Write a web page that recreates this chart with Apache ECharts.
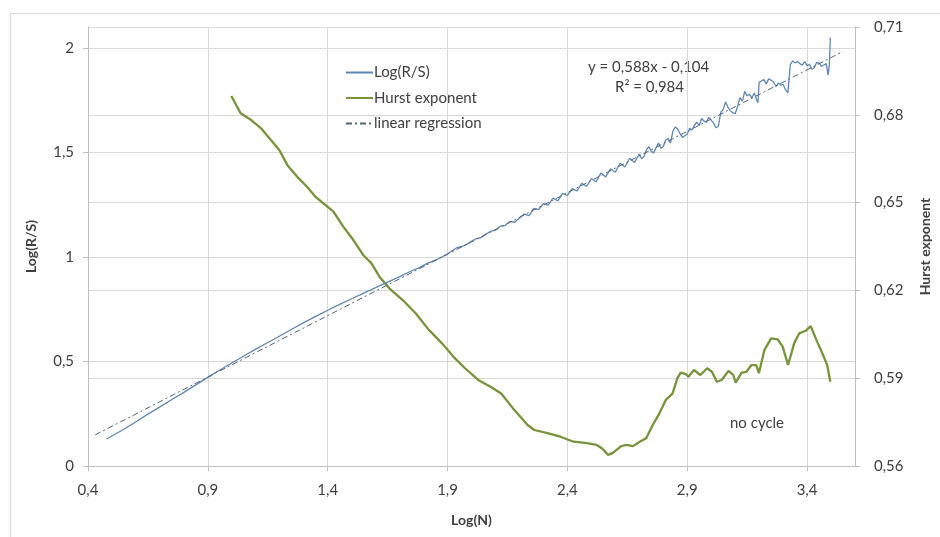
<!DOCTYPE html>
<html>
<head>
<meta charset="utf-8">
<script src="https://cdn.jsdelivr.net/npm/echarts@6/dist/echarts.min.js"></script>
<style>html,body{margin:0;padding:0;background:#fff}#c{width:940px;height:537px}</style>
</head>
<body>
<div id="c"></div>
<script>
// ---- data ----
const xTickLabels = ['0,4','0,9','1,4','1,9','2,4','2,9','3,4'];
const leftTickLabels = ['0','0,5','1','1,5','2'];
const rightTickLabels = ['0,56','0,59','0,62','0,65','0,68','0,71'];

const rsX = [0.477,0.55,0.6,0.65,0.7,0.75,0.8,0.85,0.9,0.95,1.0,1.05,1.1,1.15,1.2,1.25,1.3,1.35,1.4,1.45,1.5,1.55,1.6,1.65,1.7,1.74,1.78,1.82,1.86,1.9,
  1.92,1.94,1.96,1.98,2.0,2.02,2.04,2.06,2.08,2.1,2.12,2.14,2.16,2.18,2.2,2.22,2.24,2.26,2.28,2.3,2.32,2.34,2.36,2.38,2.4,2.42,2.44,2.46,2.48,2.5,
  2.52,2.54,2.56,2.58,2.6,2.62,2.64,2.66,2.68,2.7,2.71,2.72,2.73,2.74,2.75,2.76,2.77,2.78,2.79,2.8,2.81,2.82,2.83,2.84,2.85,2.86,2.87,2.88,2.89,2.9,
  2.91,2.92,2.93,2.94,2.95,2.96,2.97,2.98,2.99,3.0,3.01,3.02,3.03,3.04,3.05,3.06,3.07,3.08,3.09,3.1,3.11,3.12,3.13,3.14,3.15,3.16,3.17,3.18,3.19,3.195,
  3.2,3.21,3.22,3.23,3.24,3.25,3.26,3.27,3.28,3.29,3.3,3.31,3.32,3.325,3.33,3.34,3.35,3.36,3.37,3.38,3.39,3.4,3.41,3.42,3.43,3.44,3.45,3.46,3.47,3.48,3.488,3.493,3.497];
const rsY = [0.129,0.176,0.212,0.248,0.283,0.318,0.352,0.388,0.424,0.459,0.493,0.526,0.559,0.591,0.622,0.654,0.686,0.716,0.745,0.773,0.800,0.827,0.853,0.880,0.906,0.928,0.948,0.972,0.990,1.015,
  1.030,1.045,1.050,1.060,1.075,1.088,1.092,1.110,1.122,1.128,1.147,1.150,1.170,1.166,1.186,1.205,1.198,1.232,1.226,1.255,1.248,1.282,1.268,1.304,1.294,1.327,1.316,1.352,1.338,1.374,
  1.360,1.402,1.383,1.422,1.405,1.448,1.430,1.472,1.452,1.492,1.470,1.480,1.512,1.528,1.505,1.498,1.522,1.545,1.520,1.528,1.558,1.568,1.545,1.600,1.622,1.612,1.590,1.572,1.580,1.588,
  1.615,1.608,1.630,1.645,1.628,1.662,1.650,1.645,1.668,1.655,1.640,1.618,1.625,1.692,1.705,1.742,1.715,1.700,1.690,1.685,1.720,1.762,1.745,1.792,1.770,1.778,1.760,1.785,1.750,1.738,
  1.835,1.842,1.848,1.828,1.852,1.845,1.838,1.815,1.832,1.822,1.825,1.800,1.785,1.792,1.920,1.938,1.928,1.935,1.925,1.918,1.935,1.915,1.922,1.898,1.905,1.930,1.928,1.912,1.918,1.925,1.870,1.920,2.050];

const hurstX = [0.998,1.037,1.081,1.122,1.163,1.198,1.232,1.273,1.314,1.349,1.390,1.424,1.465,1.507,1.548,1.582,1.616,1.657,1.713,1.767,1.822,1.877,1.925,1.973,2.028,2.083,2.124,2.179,2.234,2.262,
  2.317,2.371,2.426,2.481,2.522,2.545,2.570,2.590,2.605,2.625,2.646,2.674,2.702,2.729,2.756,2.784,2.811,2.839,2.859,2.873,2.894,2.905,2.928,2.955,2.983,3.003,3.024,3.044,3.072,3.092,
  3.102,3.127,3.147,3.168,3.188,3.199,3.222,3.250,3.277,3.298,3.321,3.346,3.367,3.394,3.415,3.442,3.470,3.484,3.497];
const hurstY = [0.6864,0.6805,0.6782,0.6754,0.6714,0.6680,0.6628,0.6588,0.6554,0.6520,0.6492,0.6469,0.6418,0.6372,0.6321,0.6293,0.6247,0.6207,0.6167,0.6122,0.6065,0.6019,0.5973,0.5934,0.5894,0.5869,0.5848,0.5791,0.5740,0.5723,
  0.5712,0.5700,0.5683,0.5678,0.5672,0.5660,0.5638,0.5645,0.5655,0.5668,0.5672,0.5668,0.5683,0.5695,0.5740,0.5780,0.5826,0.5848,0.5900,0.5919,0.5914,0.5905,0.5928,0.5911,0.5934,0.5922,0.5888,0.5894,0.5925,0.5911,
  0.5885,0.5919,0.5922,0.5945,0.5945,0.5917,0.5996,0.6036,0.6033,0.6008,0.5945,0.6019,0.6053,0.6062,0.6078,0.6025,0.5973,0.5945,0.5888];

const regX = [0.43, 3.55];
const regY = [0.149, 1.983];

// ---- chart ----
const zip = (a, b) => a.map((v, i) => [v, b[i]]);
const FONT = 'Lato';
const TXT = '#404040';
const GRIDC = '#d9d9d9';
const AXC = '#bfbfbf';

const chart = echarts.init(document.getElementById('c'), null, {renderer: 'canvas'});
chart.setOption({
  animation: false,
  backgroundColor: '#fff',
  textStyle: {fontFamily: FONT},
  grid: {left: 88, right: 75, top: 27, bottom: 71, containLabel: false},
  legend: {
    orient: 'vertical', left: 340, top: 60,
    itemWidth: 27, itemHeight: 16, itemGap: 10.5,
    itemStyle: {opacity: 0},
    textStyle: {fontFamily: FONT, fontSize: 15, color: TXT, padding: [0,0,0,-4]},
    data: ['Log(R/S)', 'Hurst exponent', 'linear regression']
  },
  xAxis: [
    {type: 'value', min: 0.4, max: 3.6, show: false},
    {type: 'value', min: 0, max: 6.4, interval: 1, position: 'bottom',
     name: 'Log(N)', nameLocation: 'middle', nameGap: 47,
     nameTextStyle: {fontFamily: FONT, fontWeight: 'bold', fontSize: 14, color: TXT},
     axisLine: {show: true, lineStyle: {color: AXC}},
     axisTick: {show: true, length: 5, lineStyle: {color: AXC}},
     axisLabel: {showMaxLabel: false, margin: 17, fontFamily: FONT, fontSize: 15, color: TXT,
       formatter: v => xTickLabels[Math.round(v)] !== undefined && Math.abs(v - Math.round(v)) < 1e-6 ? xTickLabels[Math.round(v)] : ''},
     splitLine: {show: true, lineStyle: {color: GRIDC}}}
  ],
  yAxis: [
    {type: 'value', min: 0, max: 2.1, interval: 0.5, position: 'left',
     name: 'Log(R/S)', nameLocation: 'middle', nameGap: 50,
     nameTextStyle: {fontFamily: FONT, fontWeight: 'bold', fontSize: 14, color: TXT},
     axisLine: {show: true, lineStyle: {color: AXC}},
     axisTick: {show: true, length: 5, lineStyle: {color: AXC}},
     axisLabel: {showMaxLabel: false, margin: 14, fontFamily: FONT, fontSize: 15, color: TXT,
       formatter: v => { const i = Math.round(v / 0.5); return Math.abs(v - i * 0.5) < 1e-6 && leftTickLabels[i] !== undefined ? leftTickLabels[i] : ''; }},
     splitLine: {show: true, lineStyle: {color: GRIDC}}},
    {type: 'value', min: 0.56, max: 0.71, position: 'right', show: false},
    {type: 'value', min: 0, max: 5, interval: 1, position: 'right',
     name: 'Hurst exponent', nameLocation: 'middle', nameGap: 63,
     nameTextStyle: {fontFamily: FONT, fontWeight: 'bold', fontSize: 14, color: TXT},
     axisLine: {show: true, lineStyle: {color: AXC}},
     axisTick: {show: true, length: 5, lineStyle: {color: AXC}},
     axisLabel: {margin: 19, fontFamily: FONT, fontSize: 15, color: TXT,
       formatter: v => rightTickLabels[Math.round(v)] || ''},
     splitLine: {show: true, lineStyle: {color: GRIDC}}}
  ],
  series: [
    {name: 'Log(R/S)', type: 'line', xAxisIndex: 0, yAxisIndex: 0, symbol: 'none',
     color: '#8fb0d3',
     lineStyle: {color: '#5f87b5', width: 1.3},
     data: zip(rsX, rsY), z: 3},
    {name: 'Hurst exponent', type: 'line', xAxisIndex: 0, yAxisIndex: 1, symbol: 'none',
     color: '#77933c',
     lineStyle: {color: '#77933c', width: 2.3},
     data: zip(hurstX, hurstY), z: 2},
    {name: 'linear regression', type: 'line', xAxisIndex: 0, yAxisIndex: 0, symbol: 'none',
     color: '#55657a',
     lineStyle: {color: '#55657a', width: 1, type: [6, 3, 2, 3]},
     data: zip(regX, regY), z: 4}
  ],
  graphic: [
    {type: 'rect', left: 8, top: 11, z: -10, silent: true,
     shape: {width: 940, height: 540}, style: {fill: 'none', stroke: '#d9d9d9', lineWidth: 1}},
    {type: 'text', left: 588, top: 60, style: {text: 'y = 0,588x - 0,104', fontFamily: FONT, fontSize: 15, fill: TXT}},
    {type: 'text', left: 615, top: 80, style: {text: 'R² = 0,984', fontFamily: FONT, fontSize: 15, fill: TXT}},
    {type: 'text', left: 730, top: 416, style: {text: 'no cycle', fontFamily: FONT, fontSize: 15, fill: TXT}}
  ]
});
</script>
</body>
</html>
